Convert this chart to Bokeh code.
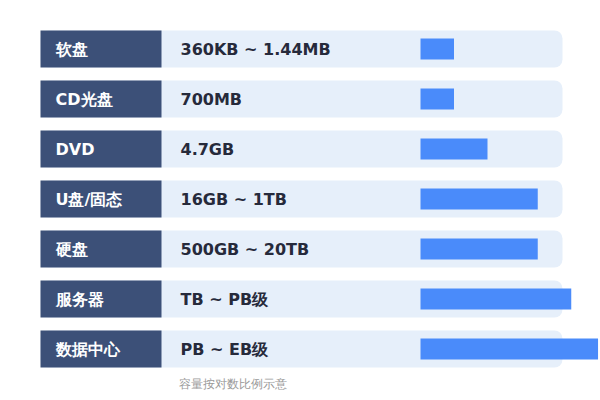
from bokeh.plotting import figure
from bokeh.models import Range1d, ColumnDataSource
from bokeh.core.properties import value
from bokeh.embed import file_html
from bokeh.resources import INLINE

# ---- data ----
media = ["软盘", "CD光盘", "DVD", "U盘/固态", "硬盘", "服务器", "数据中心"]
capacity = ["360KB ~ 1.44MB", "700MB", "4.7GB", "16GB ~ 1TB", "500GB ~ 20TB", "TB ~ PB级", "PB ~ EB级"]
scale_score = [1.0, 1.0, 2.0, 3.5, 3.5, 4.5, 5.3]
footnote = "容量按对数比例示意"

# ---- layout (pixel space) ----
W, H = 600, 400
row_top0, row_step, row_h = 30, 50, 37
n = len(media)
tops = [row_top0 + i * row_step for i in range(n)]
bottoms = [t + row_h for t in tops]
centers = [t + row_h / 2 for t in tops]

px_per_unit = 33.5
bar_origin = 420

p = figure(width=W, height=H, x_range=Range1d(0, W), y_range=Range1d(H, 0),
           output_backend="svg", toolbar_location=None, min_border=0,
           outline_line_color=None, background_fill_color="white")
p.axis.visible = False
p.grid.visible = False
p.extra_x_ranges = {"score": Range1d(start=-bar_origin / px_per_unit, end=(W - bar_origin) / px_per_unit)}

src = ColumnDataSource(dict(top=tops, bottom=bottoms, y=centers, media=media,
                            capacity=capacity, score=scale_score,
                            zero=[0] * n,
                            bt=[c - 10.5 for c in centers], bb=[c + 10.5 for c in centers]))

# light background rows
p.quad(left=40, right=562, top="top", bottom="bottom", source=src,
       fill_color="#e6effa", line_color=None, border_radius=8)
# dark label boxes
p.quad(left=40, right=161, top="top", bottom="bottom", source=src,
       fill_color="#3c5078", line_color=None)
# bars
p.quad(left="zero", right="score", top="bt", bottom="bb", source=src,
       x_range_name="score", fill_color="#4a8bfa", line_color=None)

p.text(x=55, y="y", text="media", source=src, text_color="white",
       text_font=value("DejaVu Sans"), text_font_style="bold",
       text_font_size="16px", text_baseline="middle")
p.text(x=180, y="y", text="capacity", source=src, text_color="#262a3b",
       text_font=value("DejaVu Sans"), text_font_style="bold",
       text_font_size="16px", text_baseline="middle")
p.text(x=[232], y=[383], text=[footnote], text_color="#9a9a9a",
       text_font=value("DejaVu Sans"), text_font_size="12px",
       text_align="center", text_baseline="middle")

open("out.html", "w").write(file_html(p, INLINE))
